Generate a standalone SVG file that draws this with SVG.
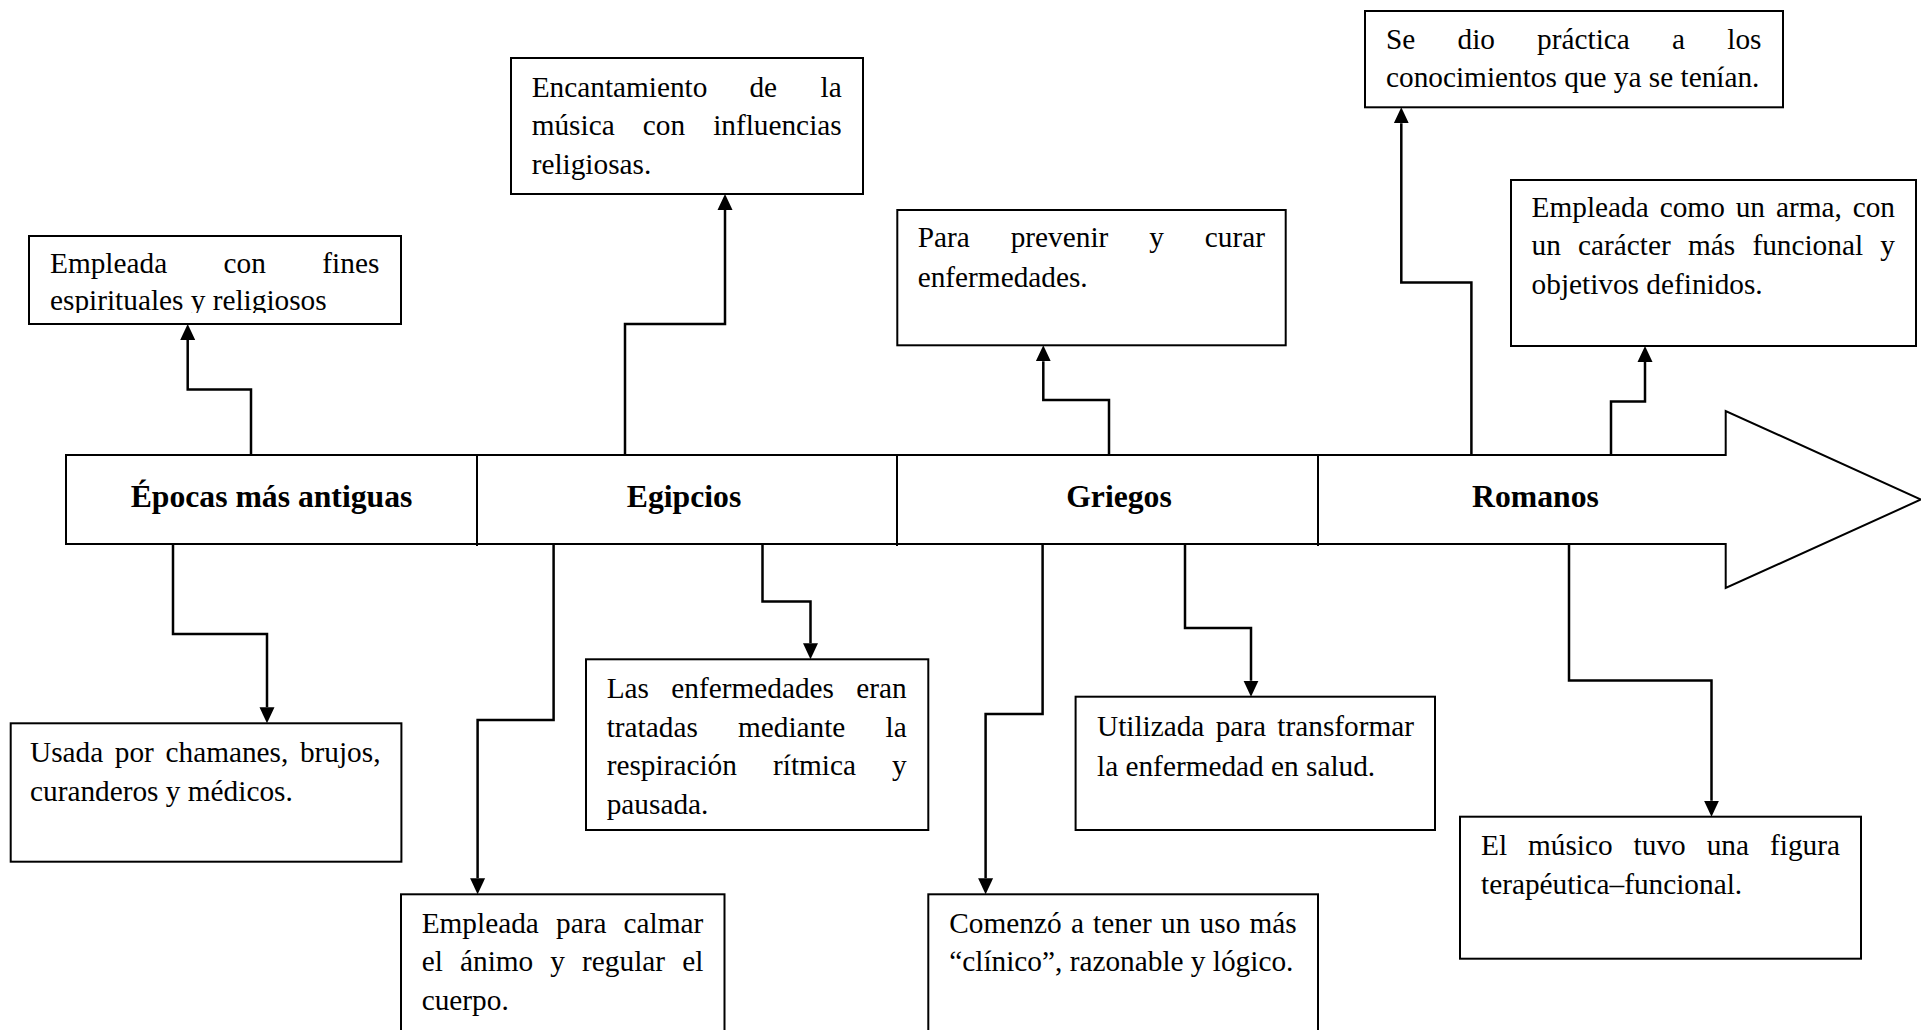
<svg xmlns="http://www.w3.org/2000/svg" width="1921" height="1030" viewBox="0 0 1921 1030">
<style>
.box{fill:#fff;stroke:#000;stroke-width:2}
.t{font-family:"Liberation Serif","Times New Roman",serif;font-size:29.3px;fill:#000}
.lbl{font-family:"Liberation Serif","Times New Roman",serif;font-size:31.7px;font-weight:bold;fill:#000;text-anchor:middle}
.c{fill:none;stroke:#000;stroke-width:2.5;marker-end:url(#ah)}
.e{text-anchor:end}
</style>
<defs>
<marker id="ah" markerWidth="16" markerHeight="16" refX="0" refY="8" orient="auto" markerUnits="userSpaceOnUse">
<path d="M0,0.5 L16,8 L0,15.5 Z" fill="#000"/>
</marker>
<clipPath id="clipA"><rect x="29" y="236" width="372" height="77"/></clipPath>
</defs>
<rect width="1921" height="1030" fill="#fff"/>

<g id="timeline">
<polygon points="66,455 1725.7,455 1725.7,411 1921,499.5 1725.7,588 1725.7,544 66,544" fill="#fff" stroke="#000" stroke-width="2"/>
<line x1="477" y1="455" x2="477" y2="546" stroke="#000" stroke-width="2"/>
<line x1="897" y1="455" x2="897" y2="546" stroke="#000" stroke-width="2"/>
<line x1="1318" y1="455" x2="1318" y2="546" stroke="#000" stroke-width="2"/>
<text class="lbl" x="271.5" y="507">Épocas más antiguas</text>
<text class="lbl" x="684" y="507">Egipcios</text>
<text class="lbl" x="1119" y="507">Griegos</text>
<text class="lbl" x="1535.5" y="507">Romanos</text>
</g>

<g id="connectors">
<path class="c" d="M251,455 V389.5 H187.7 V340"/>
<path class="c" d="M625,455 V324 H725 V210"/>
<path class="c" d="M1109,455 V400 H1043.3 V361.3"/>
<path class="c" d="M1471.4,455 V282.5 H1401.3 V123.3"/>
<path class="c" d="M1611,455 V401.5 H1645 V362"/>
<path class="c" d="M173,544 V634 H267 V707.3"/>
<path class="c" d="M553.6,544 V720 H477.6 V878.3"/>
<path class="c" d="M762.5,544 V601.5 H810.5 V643.3"/>
<path class="c" d="M1185,544 V628 H1251 V680.7"/>
<path class="c" d="M1042.6,544 V714 H985.6 V878.3"/>
<path class="c" d="M1569,544 V680.5 H1711.5 V800.7"/>
</g>

<g id="box-antiguas-arriba">
<rect class="box" x="29" y="236" width="372" height="88"/>
<text class="t" y="273"><tspan x="50">Empleada</tspan><tspan x="223.6">con</tspan><tspan class="e" x="379.3">fines</tspan></text>
<text class="t" x="50" y="310" clip-path="url(#clipA)">espirituales y religiosos</text>
</g>

<g id="box-egipcios-arriba">
<rect class="box" x="511" y="58" width="352" height="136"/>
<text class="t" y="97"><tspan x="531.7">Encantamiento</tspan><tspan x="749.4">de</tspan><tspan class="e" x="841.7">la</tspan></text>
<text class="t" y="135.3"><tspan x="531.7">música</tspan><tspan x="642.8">con</tspan><tspan class="e" x="841.7">influencias</tspan></text>
<text class="t" x="531.7" y="173.7">religiosas.</text>
</g>

<g id="box-griegos-arriba">
<rect class="box" x="897.3" y="210" width="388.4" height="135.3"/>
<text class="t" y="246.7"><tspan x="917.7">Para</tspan><tspan x="1010.7">prevenir</tspan><tspan x="1149.2">y</tspan><tspan class="e" x="1265">curar</tspan></text>
<text class="t" x="917.7" y="286.7">enfermedades.</text>
</g>

<g id="box-romanos-arriba-1">
<rect class="box" x="1365" y="11" width="418" height="96.3"/>
<text class="t" y="49"><tspan x="1386">Se</tspan><tspan x="1457.5">dio</tspan><tspan x="1537.1">práctica</tspan><tspan x="1672">a</tspan><tspan class="e" x="1761.5">los</tspan></text>
<text class="t" x="1386" y="87">conocimientos que ya se tenían.</text>
</g>

<g id="box-romanos-arriba-2">
<rect class="box" x="1511" y="180" width="405" height="166"/>
<text class="t" y="216.5"><tspan x="1531.6">Empleada</tspan><tspan x="1659.7">como</tspan><tspan x="1735.7">un</tspan><tspan x="1775.9">arma,</tspan><tspan class="e" x="1895">con</tspan></text>
<text class="t" y="255"><tspan x="1531.6">un</tspan><tspan x="1578.1">carácter</tspan><tspan x="1688">más</tspan><tspan x="1752.4">funcional</tspan><tspan class="e" x="1895">y</tspan></text>
<text class="t" x="1531.6" y="294">objetivos definidos.</text>
</g>

<g id="box-antiguas-abajo">
<rect class="box" x="10.7" y="723.3" width="390.7" height="138.4"/>
<text class="t" y="761.5"><tspan x="30">Usada</tspan><tspan x="114.8">por</tspan><tspan x="165.5">chamanes,</tspan><tspan class="e" x="380.5">brujos,</tspan></text>
<text class="t" x="30" y="801">curanderos y médicos.</text>
</g>

<g id="box-egipcios-abajo-1">
<rect class="box" x="401" y="894.3" width="323.5" height="150"/>
<text class="t" y="933"><tspan x="421.7">Empleada</tspan><tspan x="556">para</tspan><tspan class="e" x="703.3">calmar</tspan></text>
<text class="t" y="971"><tspan x="421.7">el</tspan><tspan x="460">ánimo</tspan><tspan x="550.3">y</tspan><tspan x="582.1">regular</tspan><tspan class="e" x="703.3">el</tspan></text>
<text class="t" x="421.7" y="1010">cuerpo.</text>
</g>

<g id="box-egipcios-abajo-2">
<rect class="box" x="586" y="659.3" width="342.3" height="170.7"/>
<text class="t" y="698"><tspan x="606.7">Las</tspan><tspan x="671.3">enfermedades</tspan><tspan class="e" x="906.7">eran</tspan></text>
<text class="t" y="736.5"><tspan x="606.7">tratadas</tspan><tspan x="738">mediante</tspan><tspan class="e" x="906.7">la</tspan></text>
<text class="t" y="775"><tspan x="606.7">respiración</tspan><tspan x="773">rítmica</tspan><tspan class="e" x="906.7">y</tspan></text>
<text class="t" x="606.7" y="813.5">pausada.</text>
</g>

<g id="box-griegos-abajo-1">
<rect class="box" x="1075.6" y="696.7" width="359.4" height="133.3"/>
<text class="t" y="736"><tspan x="1097">Utilizada</tspan><tspan x="1215.7">para</tspan><tspan class="e" x="1414">transformar</tspan></text>
<text class="t" x="1097" y="775.5">la enfermedad en salud.</text>
</g>

<g id="box-griegos-abajo-2">
<rect class="box" x="928.3" y="894.3" width="389.7" height="150"/>
<text class="t" y="932.5"><tspan x="949.3">Comenzó</tspan><tspan x="1070.9">a</tspan><tspan x="1093.1">tener</tspan><tspan x="1161">un</tspan><tspan x="1199.6">uso</tspan><tspan class="e" x="1296.7">más</tspan></text>
<text class="t" x="949.3" y="971">“clínico”, razonable y lógico.</text>
</g>

<g id="box-romanos-abajo">
<rect class="box" x="1460" y="816.7" width="401" height="142"/>
<text class="t" y="855"><tspan x="1481">El</tspan><tspan x="1528">músico</tspan><tspan x="1633.6">tuvo</tspan><tspan x="1706.7">una</tspan><tspan class="e" x="1840">figura</tspan></text>
<text class="t" x="1481" y="893.5">terapéutica–funcional.</text>
</g>
</svg>
